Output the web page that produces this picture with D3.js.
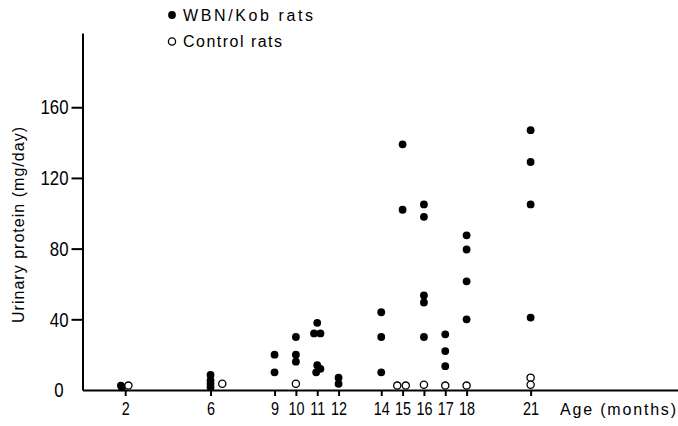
<!DOCTYPE html>
<html lang="en">

<head>
	<meta charset="UTF-8">
	<title>Urinary protein</title>
	<style type="text/css">
		body { margin: 0; background: #fff; }
		svg { display: block; }
		.axis path, .axis line { stroke: #000; stroke-width: 2; }
		.axis text { font-family: "Liberation Sans", Arial, sans-serif; fill: #000; }
		.lbl { font-family: "Liberation Sans", Arial, sans-serif; font-size: 16px; fill: #000; }
	</style>
</head>

<body>
	<div id="chart"></div>

	<script src="https://d3js.org/d3.v7.min.js"></script>
	<script>
		// WBN/Kob rats (filled dots)
		var wbnAge = [1.8, 1.85, 6, 6, 6, 6, 9, 9, 10, 10, 10,
			11, 10.85, 11.15, 11, 11.15, 10.95, 12, 12, 14, 14, 14, 15, 15,
			16, 16, 16, 16, 16, 17, 17, 17, 18, 18, 18, 18, 21, 21, 21, 21];
		var wbnProtein = [2.5, 1.5, 8.5, 5.5, 3.5, 1.5, 20, 10, 30, 20, 16,
			38, 32, 32, 14, 12, 10, 7, 3.5, 44, 30, 10, 139, 102,
			105, 98, 53.5, 49.5, 30, 31.5, 22, 13.5, 87.5, 79.5, 61.5, 40, 147, 129, 105, 41];

		// control rats (open circles)
		var controlAge = [2.15, 6.55, 10, 14.75, 15.15, 16, 17, 18, 21, 21];
		var controlProtein = [2.5, 3.5, 3.5, 2.5, 2.5, 3, 2.5, 2.5, 7, 3];

		var ageTicks = [2, 6, 9, 10, 11, 12, 14, 15, 16, 17, 18, 21];
		var proteinTicks = [0, 40, 80, 120, 160];

		var width = 678, height = 426;
		var margin = { top: 33, right: 0, bottom: 36, left: 82.5 };
		var squeeze = 0.8; // tick digits are condensed in the original

		var x = d3.scaleLinear().domain([0, 28]).range([margin.left, 680]);
		var y = d3.scaleLinear().domain([0, 202]).range([height - margin.bottom, margin.top]);

		var svg = d3.select('#chart')
			.append('svg')
			.attr('width', width)
			.attr('height', height);

		// y axis
		var yAxis = svg.append('g')
			.attr('class', 'axis')
			.attr('transform', `translate(${margin.left}, 0)`)
			.call(d3.axisLeft(y).tickValues(proteinTicks).tickSize(11).tickPadding(3).tickSizeOuter(0));
		yAxis.selectAll('text')
			.style('font-size', '21px')
			.attr('x', -14 / squeeze)
			.attr('transform', `scale(${squeeze},1)`);
		yAxis.selectAll('.tick').filter(d => d === 0).select('line').remove();
		yAxis.selectAll('.tick').filter(d => d === 0).select('text').attr('x', -19 / squeeze);

		// x axis
		var xAxis = svg.append('g')
			.attr('class', 'axis')
			.attr('transform', `translate(0, ${y(0)})`)
			.call(d3.axisBottom(x).tickValues(ageTicks).tickSize(6).tickPadding(6).tickSizeOuter(0));
		xAxis.selectAll('text')
			.style('font-size', '18px')
			.attr('transform', `scale(${squeeze},1)`);

		// points
		svg.append('g').selectAll('circle')
			.data(wbnAge.map((a, i) => [a, wbnProtein[i]]))
			.join('circle')
			.attr('cx', d => x(d[0]))
			.attr('cy', d => y(d[1]))
			.attr('r', 3.9)
			.attr('fill', '#000');

		svg.append('g').selectAll('circle')
			.data(controlAge.map((a, i) => [a, controlProtein[i]]))
			.join('circle')
			.attr('cx', d => x(d[0]))
			.attr('cy', d => y(d[1]))
			.attr('r', 3.6)
			.attr('fill', '#fff')
			.attr('stroke', '#000')
			.attr('stroke-width', 1.3);

		// axis titles
		svg.append('text')
			.attr('class', 'lbl')
			.attr('transform', 'translate(24, 225) rotate(-90)')
			.attr('text-anchor', 'middle')
			.attr('textLength', 196)
			.attr('lengthAdjust', 'spacing')
			.text('Urinary protein (mg/day)');

		svg.append('text')
			.attr('class', 'lbl')
			.attr('x', 560)
			.attr('y', 415)
			.attr('textLength', 116)
			.attr('lengthAdjust', 'spacing')
			.text('Age (months)');

		// legend
		var legend = svg.append('g');
		legend.append('circle').attr('cx', 172).attr('cy', 15).attr('r', 3.9).attr('fill', '#000');
		legend.append('text').attr('class', 'lbl').attr('x', 183).attr('y', 20.5)
			.attr('textLength', 130).attr('lengthAdjust', 'spacing').text('WBN/Kob rats');
		legend.append('circle').attr('cx', 172).attr('cy', 41.5).attr('r', 3.6)
			.attr('fill', '#fff').attr('stroke', '#000').attr('stroke-width', 1.3);
		legend.append('text').attr('class', 'lbl').attr('x', 183).attr('y', 46.5)
			.attr('textLength', 99).attr('lengthAdjust', 'spacing').text('Control rats');
	</script>
</body>

</html>
